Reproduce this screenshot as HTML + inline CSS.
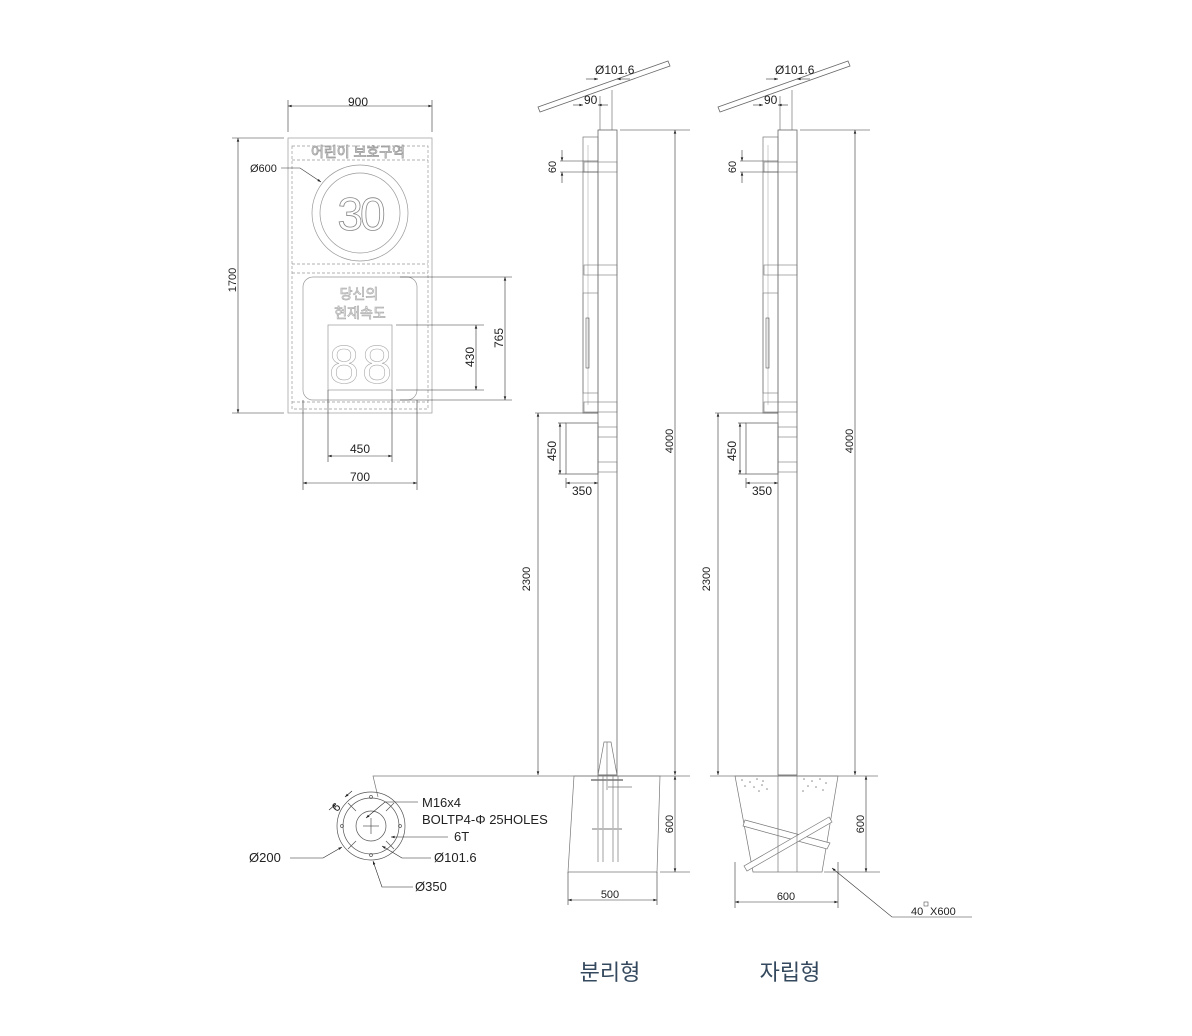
<!DOCTYPE html>
<html><head><meta charset="utf-8"><style>
html,body{margin:0;padding:0;background:#fff;}
svg{display:block;}
text{font-family:"Liberation Sans","Noto Sans CJK KR",sans-serif;fill:#222;}
</style></head><body>
<svg width="1192" height="1036" viewBox="0 0 1192 1036" xmlns="http://www.w3.org/2000/svg">
<defs>
<marker id="a" viewBox="0 0 10 10" refX="10" refY="5" markerWidth="9" markerHeight="6" orient="auto-start-reverse"><path d="M0,1.5 L10,5 L0,8.5z" fill="#222"/></marker>
<g id="pole">
  <polygon points="538,107 668,61 670,66 540,112" fill="#fff" stroke="#666" stroke-width="0.8"/>
  <line x1="600" y1="96" x2="600" y2="130" stroke="#777" stroke-width="0.7"/>
  <line x1="612" y1="90" x2="612" y2="130" stroke="#777" stroke-width="0.7"/>
  <rect x="598" y="130" width="19" height="645" fill="none" stroke="#666" stroke-width="0.8"/>
  <rect x="583" y="137" width="15" height="276" fill="none" stroke="#777" stroke-width="0.7"/>
  <line x1="588" y1="145" x2="588" y2="405" stroke="#999" stroke-width="0.5"/>
  <rect x="583" y="293" width="15" height="100" fill="none" stroke="#777" stroke-width="0.6"/>
  <rect x="586" y="318" width="3" height="50" fill="none" stroke="#555" stroke-width="0.6"/>
  <g stroke="#777" stroke-width="0.6" fill="none">
    <rect x="598" y="162" width="19" height="10"/><rect x="584" y="162" width="14" height="10"/>
    <rect x="598" y="265" width="19" height="10"/><rect x="584" y="265" width="14" height="10"/>
    <rect x="598" y="402" width="19" height="10"/><rect x="584" y="402" width="14" height="10"/>
    <rect x="598" y="427" width="19" height="10"/>
    <rect x="598" y="462" width="19" height="10"/>
  </g>
  <rect x="566" y="423" width="32" height="51" fill="none" stroke="#666" stroke-width="0.8"/>
  <g stroke="#333" stroke-width="0.6" fill="none">
    <line x1="586" y1="79" x2="598" y2="79" marker-end="url(#a)"/><line x1="630" y1="79" x2="617" y2="79" marker-end="url(#a)"/>
    <line x1="573" y1="105" x2="583" y2="105" marker-end="url(#a)"/><line x1="608" y1="105" x2="598" y2="105" marker-end="url(#a)"/>
    <line x1="620" y1="130" x2="690" y2="130"/>
    <line x1="675" y1="130" x2="675" y2="775" marker-start="url(#a)" marker-end="url(#a)"/>
    <line x1="560" y1="161" x2="598" y2="161"/><line x1="560" y1="172" x2="598" y2="172"/>
    <line x1="562" y1="150" x2="562" y2="161" marker-end="url(#a)"/><line x1="562" y1="183" x2="562" y2="172" marker-end="url(#a)"/>
    <line x1="535" y1="413" x2="598" y2="413"/>
    <line x1="538" y1="413" x2="538" y2="775" marker-start="url(#a)" marker-end="url(#a)"/>
    <line x1="558" y1="423" x2="566" y2="423"/><line x1="558" y1="474" x2="566" y2="474"/>
    <line x1="560" y1="423" x2="560" y2="474" marker-start="url(#a)" marker-end="url(#a)"/>
    <line x1="566" y1="478" x2="566" y2="488"/>
    <line x1="566" y1="483" x2="598" y2="483" marker-start="url(#a)" marker-end="url(#a)"/>
  </g>
  <text x="595" y="74" font-size="12">Ø101.6</text>
  <text x="584" y="104" font-size="12">90</text>
  <text x="556" y="167" font-size="11" transform="rotate(-90 556 167)" text-anchor="middle">60</text>
  <text x="673" y="441" font-size="11" transform="rotate(-90 673 441)" text-anchor="middle">4000</text>
  <text x="530" y="579" font-size="11" transform="rotate(-90 530 579)" text-anchor="middle">2300</text>
  <text x="556" y="451" font-size="12" transform="rotate(-90 556 451)" text-anchor="middle">450</text>
  <text x="582" y="495" font-size="12" text-anchor="middle">350</text>
</g>
</defs>

<g stroke="#999" stroke-width="0.7" fill="none">
  <rect x="288" y="138" width="144" height="275"/>
  <rect x="292" y="146" width="136" height="263" stroke-dasharray="3,2"/>
  <line x1="292" y1="160" x2="428" y2="160" stroke-dasharray="3,2"/>
  <line x1="292" y1="264" x2="428" y2="264" stroke-dasharray="3,2"/>
  <line x1="292" y1="273" x2="428" y2="273" stroke-dasharray="3,2"/>
  <line x1="292" y1="402" x2="428" y2="402" stroke-dasharray="3,2"/>
  <circle cx="360" cy="213" r="48"/>
  <circle cx="360" cy="213" r="40"/>
  <rect x="303" y="277" width="114" height="123" rx="10"/>
  <rect x="328" y="325" width="64" height="65"/>
</g>
<text x="358" y="157" font-size="14" text-anchor="middle" style="fill:#fff;stroke:#999;stroke-width:0.8">어린이 보호구역</text>
<text x="360" y="230" font-size="46" text-anchor="middle" style="fill:#fff;stroke:#888;stroke-width:0.8" letter-spacing="-3">30</text>
<text x="359" y="299" font-size="14" text-anchor="middle" style="fill:#fff;stroke:#aaa;stroke-width:0.7">당신의</text>
<text x="360" y="318" font-size="14" text-anchor="middle" style="fill:#fff;stroke:#aaa;stroke-width:0.7">현재속도</text>
<text x="344" y="383" font-size="54" text-anchor="middle" style="fill:#fff;stroke:#aaa;stroke-width:0.6">8</text>
<text x="377" y="383" font-size="54" text-anchor="middle" style="fill:#fff;stroke:#aaa;stroke-width:0.6">8</text>
<g stroke="#333" stroke-width="0.6" fill="none">
  <line x1="288" y1="100" x2="288" y2="132"/><line x1="432" y1="100" x2="432" y2="132"/>
  <line x1="288" y1="106" x2="432" y2="106" marker-start="url(#a)" marker-end="url(#a)"/>
  <line x1="232" y1="138" x2="284" y2="138"/><line x1="232" y1="413" x2="284" y2="413"/>
  <line x1="238" y1="138" x2="238" y2="413" marker-start="url(#a)" marker-end="url(#a)"/>
  <polyline points="281,168 300,168 321,182" marker-end="url(#a)"/>
  <line x1="396" y1="325" x2="484" y2="325"/><line x1="396" y1="390" x2="484" y2="390"/>
  <line x1="476" y1="325" x2="476" y2="390" marker-start="url(#a)" marker-end="url(#a)"/>
  <line x1="400" y1="277" x2="512" y2="277"/><line x1="400" y1="400" x2="512" y2="400"/>
  <line x1="505" y1="277" x2="505" y2="400" marker-start="url(#a)" marker-end="url(#a)"/>
  <line x1="328" y1="390" x2="328" y2="462"/><line x1="392" y1="390" x2="392" y2="462"/>
  <line x1="328" y1="456" x2="392" y2="456" marker-start="url(#a)" marker-end="url(#a)"/>
  <line x1="303" y1="400" x2="303" y2="490"/><line x1="417" y1="400" x2="417" y2="490"/>
  <line x1="303" y1="483" x2="417" y2="483" marker-start="url(#a)" marker-end="url(#a)"/>
</g>
<text x="358" y="106" font-size="12" text-anchor="middle">900</text>
<text x="236" y="280" font-size="11" transform="rotate(-90 236 280)" text-anchor="middle">1700</text>
<text x="250" y="172" font-size="11">Ø600</text>
<text x="474" y="357" font-size="12" transform="rotate(-90 474 357)" text-anchor="middle">430</text>
<text x="503" y="338" font-size="12" transform="rotate(-90 503 338)" text-anchor="middle">765</text>
<text x="360" y="453" font-size="12" text-anchor="middle">450</text>
<text x="360" y="481" font-size="12" text-anchor="middle">700</text>

<use href="#pole"/>
<use href="#pole" transform="translate(180,0)"/>

<g stroke="#777" stroke-width="0.7" fill="none">
  <polyline points="378,797 373,776 690,776"/>
  <polygon points="574,776 660,776 657,872 568,872"/>
  <polygon points="598,775 604,742 611,742 617,775"/>
  <line x1="607" y1="742" x2="607" y2="790"/>
  <line x1="591" y1="780" x2="623" y2="780" stroke="#999" stroke-width="2"/>
  <line x1="598" y1="776" x2="598" y2="862"/><line x1="603" y1="776" x2="603" y2="862"/>
  <line x1="613" y1="776" x2="613" y2="862"/><line x1="618" y1="776" x2="618" y2="862"/>
  <line x1="592" y1="829" x2="622" y2="829" stroke="#bbb" stroke-width="2"/>
  <line x1="608" y1="787" x2="632" y2="787"/>
</g>
<g stroke="#333" stroke-width="0.6" fill="none">
  <line x1="660" y1="872" x2="690" y2="872"/>
  <line x1="675" y1="776" x2="675" y2="872" marker-start="url(#a)" marker-end="url(#a)"/>
  <line x1="568" y1="872" x2="568" y2="905"/><line x1="657" y1="872" x2="657" y2="905"/>
  <line x1="568" y1="900" x2="657" y2="900" marker-start="url(#a)" marker-end="url(#a)"/>
</g>
<text x="673" y="824" font-size="11" transform="rotate(-90 673 824)" text-anchor="middle">600</text>
<text x="610" y="898" font-size="11" text-anchor="middle">500</text>

<g stroke="#555" stroke-width="0.7" fill="none">
  <circle cx="371" cy="826" r="34"/>
  <circle cx="371" cy="826" r="28"/>
  <circle cx="371" cy="826" r="15"/>
  <line x1="363" y1="826" x2="379" y2="826"/><line x1="371" y1="818" x2="371" y2="834"/>
  <line x1="356" y1="811" x2="348" y2="803"/><line x1="386" y1="811" x2="394" y2="803"/>
  <line x1="356" y1="841" x2="348" y2="849"/><line x1="386" y1="841" x2="394" y2="849"/>
  <circle cx="371" cy="797" r="1.5"/><circle cx="371" cy="855" r="1.5"/>
  <circle cx="342" cy="826" r="1.5"/><circle cx="400" cy="826" r="1.5"/>
</g>
<g stroke="#222" stroke-width="0.6" fill="none">
  <line x1="329" y1="810" x2="336" y2="804" marker-end="url(#a)"/>
  <line x1="352" y1="791" x2="345" y2="797" marker-end="url(#a)"/>
  <polyline points="418,802 385,802 366,818" marker-end="url(#a)"/>
  <line x1="448" y1="837" x2="391" y2="837" marker-end="url(#a)"/>
  <polyline points="290,858 323,858 342,847" marker-end="url(#a)"/>
  <polyline points="431,858 402,858 382,846" marker-end="url(#a)"/>
  <polyline points="413,887 382,887 373,861" marker-end="url(#a)"/>
</g>
<text x="339" y="810" font-size="12" transform="rotate(-45 339 810)" text-anchor="middle">6</text>
<text x="422" y="807" font-size="13">M16x4</text>
<text x="422" y="824" font-size="13">BOLTP4-Φ 25HOLES</text>
<text x="454" y="841" font-size="13">6T</text>
<text x="249" y="862" font-size="13">Ø200</text>
<text x="434" y="862" font-size="13">Ø101.6</text>
<text x="415" y="891" font-size="13">Ø350</text>

<g stroke="#777" stroke-width="0.7" fill="none">
  <line x1="710" y1="776" x2="878" y2="776"/>
  <polygon points="735,776 838,776 822,872 753,872"/>
  <polygon points="745,820 830,843 827,849 743,826" fill="#fff"/>
  <polygon points="829,817 744,866 747,871 832,822" fill="#fff"/>
  <line x1="778" y1="776" x2="778" y2="872"/><line x1="797" y1="776" x2="797" y2="872"/>
</g>
<g fill="#888">
  <circle cx="742" cy="780" r="0.8"/><circle cx="750" cy="782" r="0.8"/><circle cx="757" cy="779" r="0.8"/><circle cx="763" cy="781" r="0.8"/><circle cx="745" cy="786" r="0.8"/><circle cx="754" cy="787" r="0.8"/><circle cx="762" cy="785" r="0.8"/><circle cx="767" cy="789" r="0.8"/><circle cx="759" cy="791" r="0.8"/>
  <circle cx="804" cy="779" r="0.8"/><circle cx="812" cy="781" r="0.8"/><circle cx="820" cy="779" r="0.8"/><circle cx="826" cy="783" r="0.8"/><circle cx="808" cy="786" r="0.8"/><circle cx="816" cy="787" r="0.8"/><circle cx="823" cy="790" r="0.8"/><circle cx="803" cy="791" r="0.8"/>
</g>
<g stroke="#333" stroke-width="0.6" fill="none">
  <line x1="824" y1="872" x2="880" y2="872"/>
  <line x1="866" y1="776" x2="866" y2="872" marker-start="url(#a)" marker-end="url(#a)"/>
  <line x1="735" y1="862" x2="735" y2="908"/><line x1="838" y1="862" x2="838" y2="908"/>
  <line x1="735" y1="902" x2="838" y2="902" marker-start="url(#a)" marker-end="url(#a)"/>
  <polyline points="972,917 892,917 832,868" marker-end="url(#a)"/>
</g>
<text x="864" y="824" font-size="11" transform="rotate(-90 864 824)" text-anchor="middle">600</text>
<text x="786" y="900" font-size="11" text-anchor="middle">600</text>
<text x="911" y="915" font-size="11">40</text>
<rect x="924" y="902" width="4" height="4" fill="none" stroke="#333" stroke-width="0.5"/>
<text x="930" y="915" font-size="11">X600</text>

<text x="610" y="980" font-size="22" text-anchor="middle" style="fill:#34495e;font-family:'Noto Sans CJK KR',sans-serif">분리형</text>
<text x="790" y="980" font-size="22" text-anchor="middle" style="fill:#34495e;font-family:'Noto Sans CJK KR',sans-serif">자립형</text>
</svg>
</body></html>
